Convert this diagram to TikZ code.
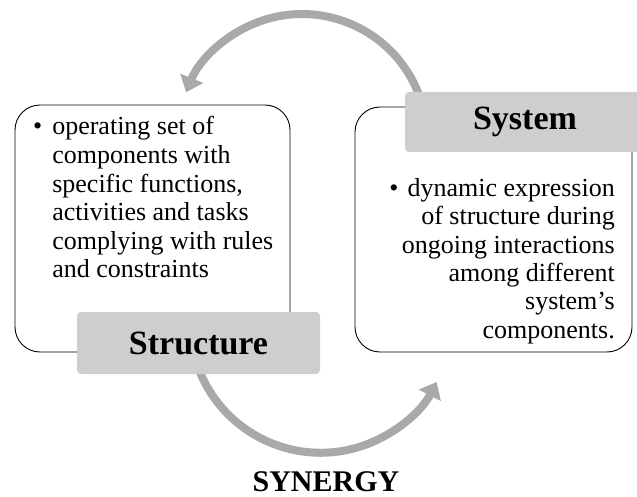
\documentclass[tikz,border=0pt]{standalone}
\usepackage{fontspec}
\setmainfont{Liberation Serif}
\usetikzlibrary{arrows.meta}
\definecolor{labelgray}{HTML}{CFCDCE}
\definecolor{arrowgray}{HTML}{ABA8A9}
\begin{document}
\begin{tikzpicture}[x=1pt,y=1pt,
  panel/.style={draw=black, line width=0.9pt, rounded corners=25pt, inner sep=0pt},
  tagbox/.style={fill=labelgray, rounded corners=4pt, inner sep=0pt,
    font=\bfseries\fontsize{34}{40}\selectfont},
  cyclearrow/.style={draw=arrowgray, line width=8pt,
    -{Triangle[width=24pt,length=15pt]}},
  bodytext/.style={inner sep=0pt}
]
\useasboundingbox (0,0) rectangle (637,-497);

% circular arrows of the cycle
\coordinate (topstart) at (419.5,-96.3);
\coordinate (botstart) at (197.9,-366.8);
\draw[cyclearrow] (topstart) arc[start angle=20, end angle=158, radius=125];
\draw[cyclearrow] (botstart) arc[start angle=200, end angle=332.7, radius=130.6];

% the two panels
\node[panel, minimum width=275, minimum height=247] (leftpanel) at (152.5,-228.5) {};
\node[panel, minimum width=277, minimum height=245] (rightpanel) at (493.5,-229.5) {};

% panel titles
\node[tagbox, minimum width=243, minimum height=62] (structlabel) at (198.5,-343) {Structure};
\node[tagbox, minimum width=240, minimum height=60] (syslabel) at (525,-122) {System};

% panel texts
\node[bodytext, anchor=base west, font=\fontsize{26}{28.6}\selectfont] (structtext) at (33,-135)
  {\begin{tabular}[t]{@{}l@{\hspace{10pt}}l@{}}
   \textbullet & operating set of\\
   & components with\\
   & specific functions,\\
   & activities and tasks\\
   & complying with rules\\
   & and constraints
   \end{tabular}};
\node[bodytext, anchor=base east, font=\fontsize{26}{28.3}\selectfont] (systext) at (615,-196.7)
  {\begin{tabular}[t]{@{}r@{}}
   \textbullet\hspace{9pt}dynamic expression\\
   of structure during\\
   ongoing interactions\\
   among different\\
   system's\\
   components.
   \end{tabular}};

\node[anchor=base, inner sep=0pt, font=\bfseries\fontsize{30}{34}\selectfont] (synergy) at (326,-491.5) {SYNERGY};
\end{tikzpicture}
\end{document}
